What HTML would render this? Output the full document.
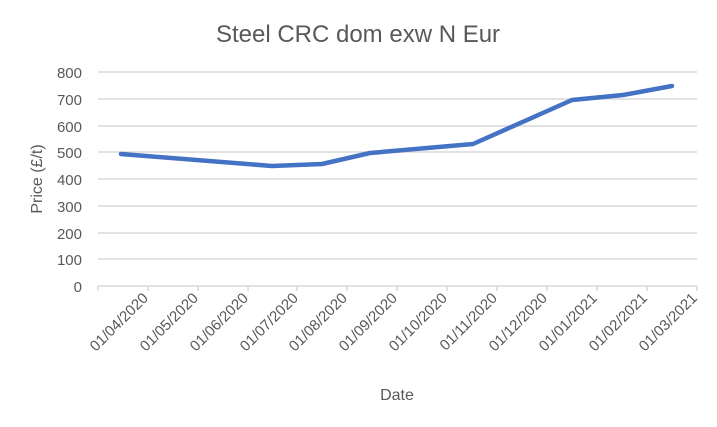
<!DOCTYPE html>
<html><head><style>body{margin:0;background:#fff}svg{display:block}</style></head><body>
<svg width="717" height="427" xmlns="http://www.w3.org/2000/svg" font-family="Liberation Sans, sans-serif">
<rect width="717" height="427" fill="#fff"/>
<text x="358" y="42" text-anchor="middle" font-size="24" fill="#595959">Steel CRC dom exw N Eur</text>
<g stroke="#d9d9d9" stroke-width="1.5">
<line x1="98" x2="697" y1="72" y2="72"/><line x1="98" x2="697" y1="99" y2="99"/>
<line x1="98" x2="697" y1="126" y2="126"/><line x1="98" x2="697" y1="152" y2="152"/>
<line x1="98" x2="697" y1="179" y2="179"/><line x1="98" x2="697" y1="206" y2="206"/>
<line x1="98" x2="697" y1="233" y2="233"/><line x1="98" x2="697" y1="259" y2="259"/>
<line x1="98" x2="697" y1="286" y2="286"/>
</g>
<g stroke="#d9d9d9" stroke-width="1.5">
<line x1="98" x2="98" y1="286" y2="291"/><line x1="148" x2="148" y1="286" y2="291"/>
<line x1="198" x2="198" y1="286" y2="291"/><line x1="248" x2="248" y1="286" y2="291"/>
<line x1="297" x2="297" y1="286" y2="291"/><line x1="347" x2="347" y1="286" y2="291"/>
<line x1="397" x2="397" y1="286" y2="291"/><line x1="447" x2="447" y1="286" y2="291"/>
<line x1="497" x2="497" y1="286" y2="291"/><line x1="547" x2="547" y1="286" y2="291"/>
<line x1="597" x2="597" y1="286" y2="291"/><line x1="647" x2="647" y1="286" y2="291"/>
<line x1="697" x2="697" y1="286" y2="291"/>
</g>
<g font-size="15" fill="#595959" text-anchor="end">
<text x="82" y="78">800</text><text x="82" y="105">700</text><text x="82" y="132">600</text>
<text x="82" y="158">500</text><text x="82" y="185">400</text><text x="82" y="212">300</text>
<text x="82" y="239">200</text><text x="82" y="265">100</text><text x="82" y="292">0</text>
</g>
<text transform="translate(42,179) rotate(-90)" text-anchor="middle" font-size="16" fill="#595959">Price (£/t)</text>
<g font-size="15" fill="#595959" text-anchor="end">
<text transform="translate(149,299) rotate(-45)">01/04/2020</text>
<text transform="translate(199,299) rotate(-45)">01/05/2020</text>
<text transform="translate(249,299) rotate(-45)">01/06/2020</text>
<text transform="translate(299,299) rotate(-45)">01/07/2020</text>
<text transform="translate(348,299) rotate(-45)">01/08/2020</text>
<text transform="translate(398,299) rotate(-45)">01/09/2020</text>
<text transform="translate(448,299) rotate(-45)">01/10/2020</text>
<text transform="translate(498,299) rotate(-45)">01/11/2020</text>
<text transform="translate(548,299) rotate(-45)">01/12/2020</text>
<text transform="translate(598,299) rotate(-45)">01/01/2021</text>
<text transform="translate(648,299) rotate(-45)">01/02/2021</text>
<text transform="translate(698,299) rotate(-45)">01/03/2021</text>
</g>
<text x="397" y="400" text-anchor="middle" font-size="16" fill="#595959">Date</text>
<polyline fill="none" stroke="#4472c4" stroke-width="4.5" stroke-linejoin="round" stroke-linecap="round"
points="121,154 272,166 322,164 370,153 473,144 572,100 623,95 672,86"/>
</svg>
</body></html>
